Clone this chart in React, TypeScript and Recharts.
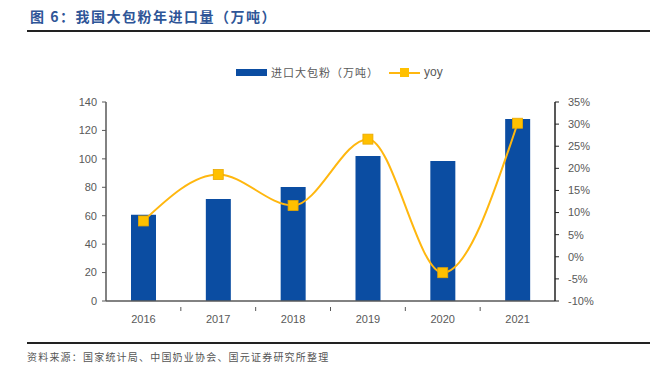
import React from "react";
import { ComposedChart, Bar, Line, XAxis, YAxis } from "recharts";

const years = ["2016", "2017", "2018", "2019", "2020", "2021"];
const imports = [60.6, 71.8, 80.2, 102, 98.5, 128];
const yoy = [8.1, 18.6, 11.6, 26.6, -3.6, 30.2];
const leftTicks = [0, 20, 40, 60, 80, 100, 120, 140];
const rightTicks = [-10, -5, 0, 5, 10, 15, 20, 25, 30, 35];

const data = years.map((y, i) => ({ year: y, imports: imports[i], yoy: yoy[i] }));

const BAR = "#0B4DA2";
const LINE = "#FFB70F";
const AXIS = "#595959";
const CJK = '"Noto Sans CJK SC", sans-serif';
const LAT = '"Liberation Sans", Arial, sans-serif';

const SquareDot = (props: any) => {
  const { cx, cy } = props;
  if (cx == null || cy == null) return null;
  return <rect x={cx - 5} y={cy - 5} width={10} height={10} fill="#FFC000" stroke="#E8A800" strokeWidth={0.8} />;
};

const XTick = (props: any) => {
  const { x, y, payload, index } = props;
  const half = payload && payload.offset ? payload.offset : 37.4;
  return (
    <g>
      {index > 0 && <line x1={x - half} x2={x - half} y1={y - 8} y2={y - 4} stroke={AXIS} strokeWidth={1} />}
      <text x={x} y={y} dy="0.71em" textAnchor="middle" fill={AXIS} fontSize={11} fontFamily={LAT}>
        {payload.value}
      </text>
    </g>
  );
};

export default function App() {
  return (
    <div style={{ position: "absolute", left: 0, top: 0, width: 650, height: 367, background: "#fff" }}>
      <div style={{ position: "absolute", left: 30, top: 6, fontFamily: CJK, fontWeight: 700, fontSize: 14, color: "#2E5597", letterSpacing: 1.5, whiteSpace: "nowrap" }}>
        图 6：我国大包粉年进口量（万吨）
      </div>
      <div style={{ position: "absolute", left: 27, top: 30, width: 623, height: 2, background: "#222" }} />
      {/* legend */}
      <div style={{ position: "absolute", left: 236, top: 69, width: 31, height: 7, background: BAR }} />
      <div style={{ position: "absolute", left: 271, top: 64, fontFamily: CJK, fontSize: 11, color: AXIS, whiteSpace: "nowrap", letterSpacing: 1 }}>
        进口大包粉（万吨）
      </div>
      <div style={{ position: "absolute", left: 389, top: 72, width: 31, height: 2, background: LINE }} />
      <div style={{ position: "absolute", left: 400, top: 68, width: 9, height: 9, background: "#FFC000" }} />
      <div style={{ position: "absolute", left: 424, top: 65, fontFamily: LAT, fontSize: 12, color: AXIS }}>yoy</div>
      <div style={{ position: "absolute", left: 0, top: 0 }}>
        <ComposedChart width={650} height={367} data={data} margin={{ top: 102, right: 35, bottom: 36, left: 46 }}>
          <XAxis dataKey="year" tickLine={false} axisLine={{ stroke: AXIS, strokeWidth: 1.5 }} tick={<XTick />} tickMargin={8} height={30} />
          <YAxis yAxisId="l" domain={[0, 140]} ticks={leftTicks} interval={0} width={60} axisLine={{ stroke: AXIS, strokeWidth: 1.5 }} tickLine={{ stroke: AXIS }} tickSize={4} tickMargin={5} tick={{ fill: AXIS, fontSize: 11, fontFamily: LAT }} />
          <YAxis yAxisId="r" orientation="right" domain={[-10, 35]} ticks={rightTicks} interval={0} width={60} axisLine={{ stroke: "#222", strokeWidth: 1.5 }} tickLine={{ stroke: "#222" }} tickSize={4} tickMargin={9} tick={{ fill: AXIS, fontSize: 11, fontFamily: LAT }} tickFormatter={(v: number) => `${v}%`} />
          <Bar yAxisId="l" dataKey="imports" fill={BAR} barSize={25} isAnimationActive={false} />
          <Line yAxisId="r" dataKey="yoy" type="monotone" stroke={LINE} strokeWidth={2} dot={<SquareDot />} activeDot={false} isAnimationActive={false} />
        </ComposedChart>
      </div>
      <div style={{ position: "absolute", left: 27, top: 342, width: 623, height: 1.5, background: "#222" }} />
      <div style={{ position: "absolute", left: 27, top: 349, fontFamily: CJK, fontSize: 10, color: "#555", whiteSpace: "nowrap", letterSpacing: 1.2 }}>
        资料来源：国家统计局、中国奶业协会、国元证券研究所整理
      </div>
    </div>
  );
}
